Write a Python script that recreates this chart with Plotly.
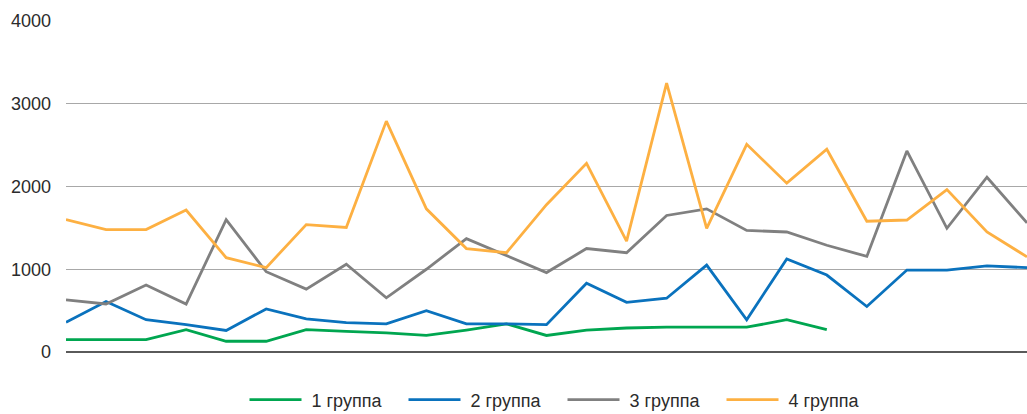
import plotly.graph_objects as go

points = list(range(1, 26))

group1 = [150, 150, 150, 270, 130, 130, 270, 250, 230, 200, 265, 340, 200, 265, 290, 300, 300, 300, 390, 270,
          None, None, None, None, None]
group2 = [360, 610, 390, 330, 260, 520, 400, 355, 340, 500, 340, 340, 330, 830, 600, 650, 1050, 390, 1125, 930,
          550, 990, 990, 1040, 1020]
group3 = [630, 580, 810, 580, 1600, 970, 760, 1060, 655, 1000, 1370, 1165, 960, 1250, 1200, 1650, 1730, 1470, 1450, 1290,
          1155, 2430, 1495, 2112, 1560]
group4 = [1600, 1480, 1480, 1715, 1140, 1020, 1540, 1505, 2790, 1730, 1250, 1200, 1780, 2280, 1340, 3250, 1495, 2510, 2040, 2450,
          1580, 1595, 1962, 1450, 1150]

names = ["1 группа", "2 группа", "3 группа", "4 группа"]
colors = ["#00a650", "#0a72bd", "#808080", "#fdb042"]
series = [group1, group2, group3, group4]

fig = go.Figure()
for name, vals, col in zip(names, series, colors):
    fig.add_trace(go.Scatter(x=points, y=vals, mode="lines", name="\u00a0" + name,
                             line=dict(color=col, width=2.8), connectgaps=False))

fig.update_layout(
    width=1027, height=414,
    margin=dict(l=66, r=0, t=21, b=62, autoexpand=False),
    paper_bgcolor="white", plot_bgcolor="white",
    font=dict(family="Liberation Sans, Arial, sans-serif", size=18, color="#2b2b2b"),
    showlegend=True,
    legend=dict(orientation="h", x=0.5 + 16 / 961, xanchor="center", xref="paper",
                yref="paper", y=(352 - 400) / 331, yanchor="middle",
                font=dict(size=18, color="#2b2b2b"),
                itemwidth=52, entrywidth=92, entrywidthmode="pixels",
                bgcolor="rgba(0,0,0,0)"),
    xaxis=dict(range=[1, 25], showgrid=False, showticklabels=False, ticks="",
               zeroline=False, showline=False, automargin=False),
    yaxis=dict(range=[0, 4000], tickvals=[0, 1000, 2000, 3000, 4000], ticks="",
               showgrid=True, gridcolor="#a8a8a8", gridwidth=1.4,
               zeroline=True, zerolinecolor="#5a5a5a", zerolinewidth=2,
               showline=False, ticklabelstandoff=14, automargin=False),
)

fig.write_html("out.html", config={"displayModeBar": False},
               post_script="document.body.style.margin='0';document.body.style.overflow='hidden';")
